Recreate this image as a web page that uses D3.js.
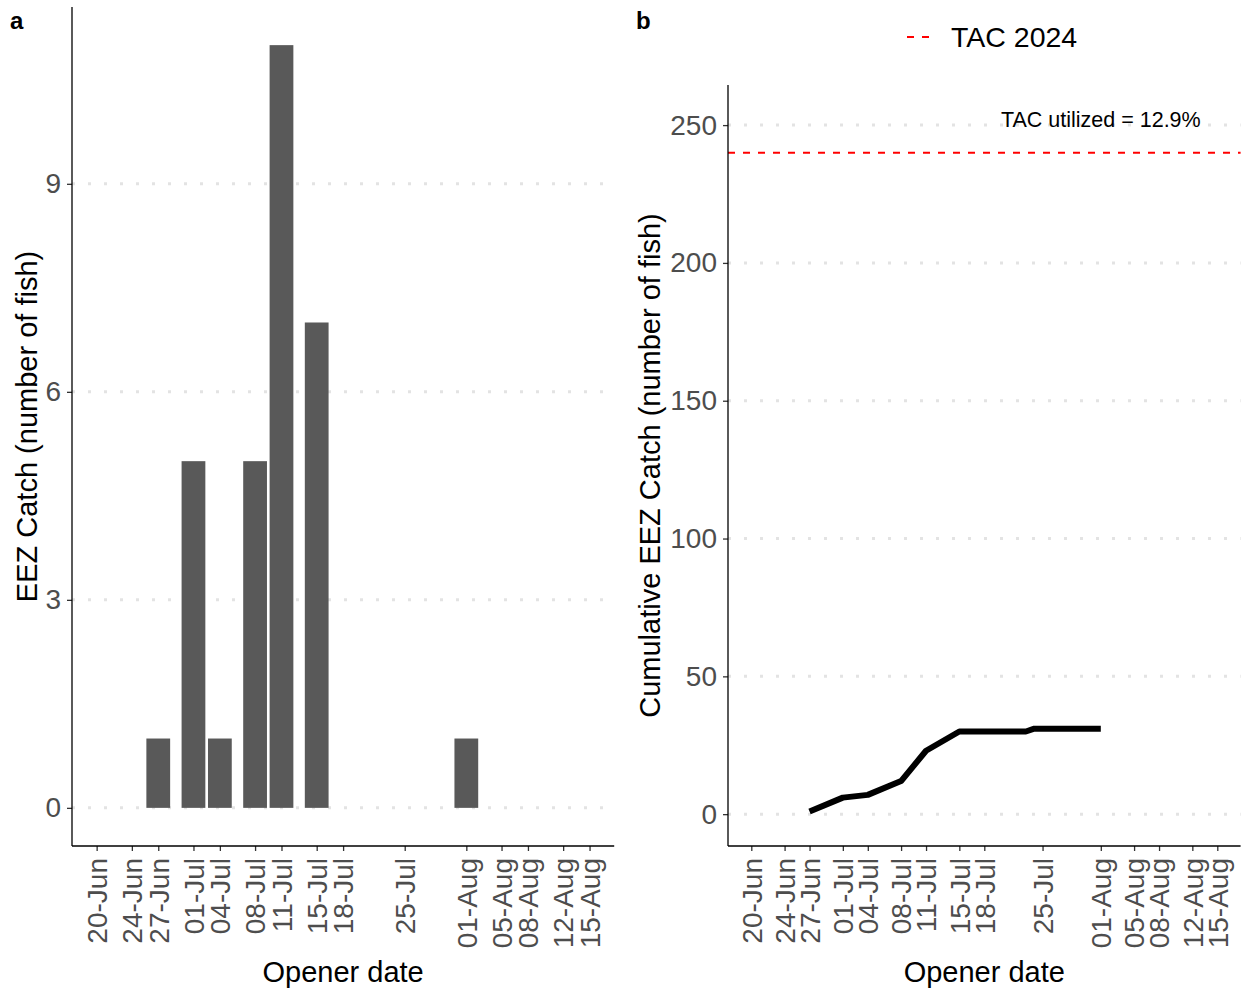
<!DOCTYPE html>
<html>
<head>
<meta charset="utf-8">
<script src="https://cdn.jsdelivr.net/npm/d3@7"></script>
<style>
  html, body { margin: 0; padding: 0; background: #fff; }
  svg { display: block; font-family: "Liberation Sans", Arial, sans-serif; }
</style>
</head>
<body>
<svg id="chart" width="1244" height="992"></svg>
<script>
// Opener dates on the x axis (season 2024)
const tickDates = ["2024-06-20","2024-06-24","2024-06-27","2024-07-01","2024-07-04","2024-07-08",
  "2024-07-11","2024-07-15","2024-07-18","2024-07-25","2024-08-01","2024-08-05","2024-08-08",
  "2024-08-12","2024-08-15"];

// Panel a: EEZ catch per opener
const openerDates = ["2024-06-27","2024-07-01","2024-07-04","2024-07-08","2024-07-11","2024-07-15","2024-08-01"];
const eezCatch = [1, 5, 1, 5, 11, 7, 1];

// Panel b: cumulative EEZ catch
const cumDates = ["2024-06-27","2024-07-01","2024-07-04","2024-07-08","2024-07-11","2024-07-15",
  "2024-07-18","2024-07-23","2024-07-24","2024-08-01"];
const cumCatch = [1, 6, 7, 12, 23, 30, 30, 30, 31, 31];

const tac2024 = 240;
const tacUtilized = "12.9%";

const yTicksA = [0, 3, 6, 9];
const yTicksB = [0, 50, 100, 150, 200, 250];

const parse = d3.utcParse("%Y-%m-%d");
const fmt = d3.utcFormat("%d-%b");
const DAY = 86400000;

const svg = d3.select("#chart");
const tickColor = "#333333";
const labelColor = "#4d4d4d";
const gridColor = "#e3e3e3";
const tickFont = 28;
const titleFont = 29;

const firstTick = parse(tickDates[0]);
const lastTick = parse(tickDates[tickDates.length - 1]);
const span = lastTick - firstTick;
const xDomain = [new Date(+firstTick - 0.05 * span), new Date(+lastTick + 0.05 * span)];

function drawPanel(p) {
  const g = svg.append("g");
  const x = d3.scaleUtc().domain(xDomain).range([p.left, p.right]);
  const y = d3.scaleLinear().domain(p.yDomain).range([p.bottom, p.top]);

  // dotted horizontal gridlines
  g.append("g").selectAll("line").data(p.yTicks).join("line")
    .attr("x1", p.left).attr("x2", p.right)
    .attr("y1", d => y(d)).attr("y2", d => y(d))
    .attr("stroke", gridColor).attr("stroke-width", 3)
    .attr("stroke-dasharray", "3 13");

  p.draw(g, x, y);

  // y axis
  const ya = g.append("g").attr("transform", `translate(${p.left},0)`)
    .call(d3.axisLeft(y).tickValues(p.yTicks).tickSize(5).tickPadding(6));
  ya.select(".domain").remove();
  ya.selectAll(".tick line").attr("stroke", tickColor).attr("stroke-width", 1.3);
  ya.selectAll(".tick text").attr("fill", labelColor).attr("font-size", tickFont)
    .attr("font-family", "Liberation Sans, Arial, sans-serif");

  // x axis
  const xa = g.append("g").attr("transform", `translate(0,${p.bottom})`)
    .call(d3.axisBottom(x).tickValues(tickDates.map(parse)).tickFormat(fmt).tickSize(5).tickPadding(0));
  xa.select(".domain").remove();
  xa.selectAll(".tick line").attr("stroke", tickColor).attr("stroke-width", 1.3);
  xa.selectAll(".tick text")
    .attr("fill", labelColor).attr("font-size", tickFont)
    .attr("font-family", "Liberation Sans, Arial, sans-serif")
    .attr("text-anchor", "end")
    .attr("transform", "translate(0,12) rotate(-90)")
    .attr("x", 0).attr("y", 0).attr("dy", "0.35em");

  // axis lines
  g.append("line").attr("x1", p.left).attr("x2", p.left).attr("y1", p.top).attr("y2", p.bottom)
    .attr("stroke", "#000").attr("stroke-width", 1.3);
  g.append("line").attr("x1", p.left).attr("x2", p.right).attr("y1", p.bottom).attr("y2", p.bottom)
    .attr("stroke", "#000").attr("stroke-width", 1.3);

  // axis titles
  g.append("text").attr("x", (p.left + p.right) / 2).attr("y", 982)
    .attr("text-anchor", "middle").attr("font-size", titleFont).attr("fill", "#000")
    .text("Opener date");
  g.append("text")
    .attr("transform", `translate(${p.yTitleX},${(p.top + p.bottom) / 2}) rotate(-90)`)
    .attr("text-anchor", "middle").attr("font-size", titleFont).attr("fill", "#000")
    .text(p.yTitle);

  // panel tag
  g.append("text").attr("x", p.tagX).attr("y", 29).attr("font-size", 24)
    .attr("font-weight", "bold").attr("fill", "#000").text(p.tag);
}

// Panel a: bars, width 0.9 of the 3-day minimum spacing
drawPanel({
  left: 72, right: 614.2, top: 7, bottom: 846,
  yDomain: [-0.55, 11.55], yTicks: yTicksA,
  yTitle: "EEZ Catch (number of fish)", yTitleX: 37,
  tag: "a", tagX: 10,
  draw(g, x, y) {
    const halfW = 0.9 * 3 * DAY / 2;
    g.append("g").selectAll("rect").data(openerDates.map((d, i) => ({ date: parse(d), v: eezCatch[i] })))
      .join("rect")
      .attr("x", d => x(new Date(+d.date - halfW)))
      .attr("width", d => x(new Date(+d.date + halfW)) - x(new Date(+d.date - halfW)))
      .attr("y", d => y(d.v))
      .attr("height", d => y(0) - y(d.v))
      .attr("fill", "#595959");
  }
});

// Panel b: cumulative line with TAC reference
drawPanel({
  left: 728, right: 1240.6, top: 85, bottom: 846,
  yDomain: [-11.55, 264.55], yTicks: yTicksB,
  yTitle: "Cumulative EEZ Catch (number of fish)", yTitleX: 660,
  tag: "b", tagX: 636,
  draw(g, x, y) {
    g.append("line")
      .attr("x1", 728).attr("x2", 1240.6)
      .attr("y1", y(tac2024)).attr("y2", y(tac2024))
      .attr("stroke", "#ff0000").attr("stroke-width", 2)
      .attr("stroke-dasharray", "7 8");
    const pts = cumDates.map((d, i) => [parse(d), cumCatch[i]]);
    g.append("path")
      .attr("d", d3.line().x(d => x(d[0])).y(d => y(d[1]))(pts))
      .attr("fill", "none").attr("stroke", "#000").attr("stroke-width", 6)
      .attr("stroke-linejoin", "round").attr("stroke-linecap", "butt");
    const lastDate = parse(cumDates[cumDates.length - 1]);
    g.append("text")
      .attr("x", x(lastDate)).attr("y", y(tac2024 * 1.05)).attr("dy", "0.35em")
      .attr("text-anchor", "middle").attr("font-size", 21.5).attr("fill", "#000")
      .text(`TAC utilized = ${tacUtilized}`);
  }
});

// Legend for the TAC line
const legend = svg.append("g").attr("transform", "translate(907,37)");
legend.append("line").attr("x1", 0).attr("x2", 25).attr("y1", 0).attr("y2", 0)
  .attr("stroke", "#ff0000").attr("stroke-width", 2).attr("stroke-dasharray", "7 8");
legend.append("text").attr("x", 44).attr("y", 0).attr("dy", "0.35em")
  .attr("font-size", 28.5).attr("fill", "#000").text("TAC 2024");
</script>
</body>
</html>
